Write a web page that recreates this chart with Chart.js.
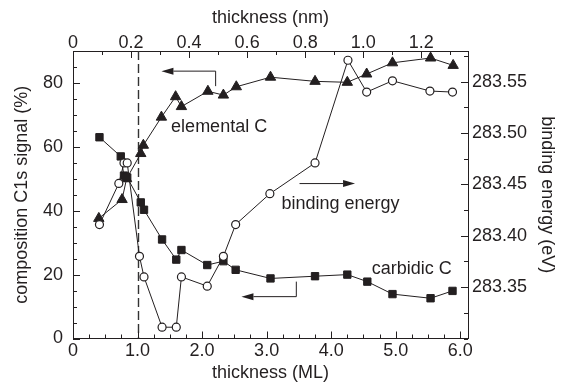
<!DOCTYPE html>
<html>
<head>
<meta charset="utf-8">
<script src="https://cdn.jsdelivr.net/npm/chart.js@4.4.1/dist/chart.umd.min.js"></script>
<style>
  html, body { margin: 0; padding: 0; background: #fff; }
</style>
</head>
<body>
<canvas id="xpsChart" width="564" height="384"></canvas>
<script>
// values, thickness in ML
const elementalX = [0.40, 0.76, 0.83, 1.05, 1.09, 1.37, 1.59, 1.68, 2.09, 2.33, 2.53, 3.06, 3.75, 4.25, 4.55, 4.95, 5.54, 5.89];
const elementalC = [37.6, 43.5, 50.0, 57.9, 60.5, 69.3, 75.7, 72.6, 77.4, 76.2, 78.8, 81.8, 80.5, 80.2, 82.8, 86.3, 87.8, 85.5];
const carbidicX = [0.41, 0.74, 0.79, 0.84, 1.05, 1.10, 1.38, 1.60, 1.68, 2.08, 2.33, 2.52, 3.06, 3.75, 4.25, 4.56, 4.95, 5.54, 5.88];
const carbidicC = [63.0, 57.0, 51.0, 50.4, 42.6, 40.3, 31.0, 24.7, 27.7, 23.0, 24.2, 21.5, 18.8, 19.5, 20.0, 17.8, 13.9, 12.6, 14.9];
const bindingX = [0.41, 0.71, 0.79, 0.84, 1.03, 1.10, 1.38, 1.60, 1.68, 2.08, 2.33, 2.52, 3.05, 3.75, 4.26, 4.55, 4.95, 5.53, 5.88];
const bindingE = [283.411, 283.451, 283.471, 283.471, 283.380, 283.360, 283.311, 283.311, 283.360, 283.351, 283.380, 283.411, 283.441, 283.471, 283.571, 283.540, 283.551, 283.541, 283.540];

// labelled ticks
const mlTicks = [0, 1, 2, 3, 4, 5, 6];
const nmTicks = [0, 0.2, 0.4, 0.6, 0.8, 1.0, 1.2];
const pctTicks = [0, 20, 40, 60, 80];
const beTicks = [283.35, 283.40, 283.45, 283.50, 283.55];

const mlMax = 6.12;
const nmPerML = 0.2224;

// annotations, in ML / % units
const notes = [
  { text: "elemental C", x: 1.52, y: 66.3 },
  { text: "binding energy", x: 3.23, y: 42.2 },
  { text: "carbidic C", x: 4.63, y: 21.9 }
];
const arrows = [
  [[2.21, 79.0], [2.21, 83.7], [1.37, 83.7]],
  [[3.51, 48.5], [4.37, 48.5]],
  [[3.46, 17.8], [3.46, 13.1], [2.61, 13.1]]
];
const markerLine = 1.0;

const FONT = { family: "'Liberation Sans', Arial, sans-serif", size: 18 };
const INK = "#231f20";

function minorTicks(step) {
  return function (scale) {
    const out = [];
    const n = Math.floor((scale.max - scale.min) / step + 1e-6);
    for (let i = 0; i <= n; i++) out.push({ value: +(scale.min + i * step).toFixed(4) });
    scale.ticks = out;
  };
}
function isIn(v, list) {
  return list.some(t => Math.abs(t - v) < 1e-6);
}
function fmtOne(v) {
  return v === 0 ? "0" : v.toFixed(1);
}

const majorSets = { x: mlTicks, x2: nmTicks, y: pctTicks, y1: beTicks };

const frameTicks = {
  id: "frameTicks",
  beforeDatasetsDraw(chart) {
    const ctx = chart.ctx, a = chart.chartArea;
    const px = Math.round(chart.scales.x.getPixelForValue(markerLine)) + 0.5;
    ctx.save();
    ctx.strokeStyle = "#333";
    ctx.lineWidth = 1.4;
    ctx.setLineDash([9, 4]);
    ctx.beginPath();
    ctx.moveTo(px, a.top);
    ctx.lineTo(px, a.bottom);
    ctx.stroke();
    ctx.restore();
  },
  afterDraw(chart) {
    const ctx = chart.ctx, a = chart.chartArea;
    ctx.save();
    ctx.strokeStyle = INK;
    ctx.lineWidth = 1;
    ctx.beginPath();
    for (const id of ["x", "x2", "y", "y1"]) {
      const s = chart.scales[id];
      s.ticks.forEach(t => {
        const len = isIn(t.value, majorSets[id]) ? 7 : 4;
        const p = Math.round(s.getPixelForValue(t.value)) + 0.5;
        if (id === "x") { ctx.moveTo(p, a.bottom); ctx.lineTo(p, a.bottom - len); }
        if (id === "x2") { ctx.moveTo(p, a.top); ctx.lineTo(p, a.top + len); }
        if (id === "y") { ctx.moveTo(a.left, p); ctx.lineTo(a.left + len, p); }
        if (id === "y1") { ctx.moveTo(a.right, p); ctx.lineTo(a.right - len, p); }
      });
    }
    ctx.stroke();

    // arrows
    const sx = chart.scales.x, sy = chart.scales.y;
    ctx.fillStyle = INK;
    arrows.forEach(path => {
      const pts = path.map(p => [sx.getPixelForValue(p[0]), sy.getPixelForValue(p[1])]);
      ctx.beginPath();
      ctx.moveTo(pts[0][0], pts[0][1]);
      for (let i = 1; i < pts.length - 1; i++) ctx.lineTo(pts[i][0], pts[i][1]);
      const [x1, y1] = pts[pts.length - 2];
      const [x2, y2] = pts[pts.length - 1];
      const ang = Math.atan2(y2 - y1, x2 - x1);
      const hl = 12, hw = 3.5;
      ctx.lineTo(x2 - hl * Math.cos(ang), y2 - hl * Math.sin(ang));
      ctx.stroke();
      ctx.beginPath();
      ctx.moveTo(x2, y2);
      ctx.lineTo(x2 - hl * Math.cos(ang) - hw * Math.sin(ang), y2 - hl * Math.sin(ang) + hw * Math.cos(ang));
      ctx.lineTo(x2 - hl * Math.cos(ang) + hw * Math.sin(ang), y2 - hl * Math.sin(ang) - hw * Math.cos(ang));
      ctx.closePath();
      ctx.fill();
    });

    ctx.font = FONT.size + "px " + FONT.family;
    ctx.textAlign = "left";
    ctx.textBaseline = "middle";
    notes.forEach(n => ctx.fillText(n.text, sx.getPixelForValue(n.x), sy.getPixelForValue(n.y)));
    ctx.restore();
  }
};

function pairs(xs, ys) {
  return xs.map((x, i) => ({ x: x, y: ys[i] }));
}

new Chart(document.getElementById("xpsChart").getContext("2d"), {
  type: "line",
  data: {
    datasets: [
      {
        label: "binding energy", data: pairs(bindingX, bindingE), yAxisID: "y1",
        borderColor: INK, borderWidth: 1, pointStyle: "circle", pointRadius: 4,
        pointBackgroundColor: "#fff", pointBorderColor: INK, pointBorderWidth: 1.2
      },
      {
        label: "carbidic C", data: pairs(carbidicX, carbidicC), yAxisID: "y",
        borderColor: INK, borderWidth: 1, pointStyle: "rect", pointRadius: 5.2,
        pointBackgroundColor: INK, pointBorderColor: INK, pointBorderWidth: 1
      },
      {
        label: "elemental C", data: pairs(elementalX, elementalC), yAxisID: "y",
        borderColor: INK, borderWidth: 1, pointStyle: "triangle", pointRadius: 6,
        pointBackgroundColor: INK, pointBorderColor: INK, pointBorderWidth: 1
      }
    ]
  },
  options: {
    responsive: false,
    animation: false,
    devicePixelRatio: 1,
    layout: { padding: 0 },
    elements: { line: { tension: 0 } },
    plugins: { legend: { display: false }, tooltip: { enabled: false } },
    scales: {
      x: {
        type: "linear", position: "bottom", min: 0, max: mlMax,
        afterBuildTicks: minorTicks(0.25),
        afterFit: s => { s.height = 45.5; },
        grid: { drawOnChartArea: false, drawTicks: false },
        border: { display: true, color: INK, width: 1 },
        ticks: {
          autoSkip: false, maxRotation: 0, padding: 2, color: INK, font: FONT,
          callback: v => isIn(v, mlTicks) ? fmtOne(v) : ""
        },
        title: { display: true, text: "thickness (ML)", color: INK, font: FONT, padding: { top: 0, bottom: 0 } }
      },
      x2: {
        type: "linear", position: "top", min: 0, max: mlMax * nmPerML,
        afterBuildTicks: minorTicks(0.1),
        afterFit: s => { s.height = 51; },
        grid: { drawOnChartArea: false, drawTicks: false },
        border: { display: true, color: INK, width: 1 },
        ticks: {
          autoSkip: false, maxRotation: 0, padding: -3, color: INK, font: FONT,
          callback: v => isIn(v, nmTicks) ? fmtOne(v) : ""
        },
        title: { display: true, text: "thickness (nm)", color: INK, font: FONT, padding: { top: 7, bottom: 0 } }
      },
      y: {
        type: "linear", position: "left", min: 0, max: 90,
        afterBuildTicks: minorTicks(5),
        afterFit: s => { s.width = 73; },
        grid: { drawOnChartArea: false, drawTicks: false },
        border: { display: true, color: INK, width: 1 },
        ticks: {
          autoSkip: false, padding: 10, color: INK, font: FONT,
          callback: v => isIn(v, pctTicks) ? String(v) : ""
        },
        title: { display: true, text: "composition C1s signal (%)", color: INK, font: FONT, padding: { top: 11, bottom: 0 } }
      },
      y1: {
        type: "linear", position: "right", min: 283.30, max: 283.58,
        afterBuildTicks: minorTicks(0.025),
        afterFit: s => { s.width = 96; },
        grid: { drawOnChartArea: false, drawTicks: false },
        border: { display: true, color: INK, width: 1 },
        ticks: {
          autoSkip: false, padding: 4, color: INK, font: FONT,
          callback: v => isIn(v, beTicks) ? v.toFixed(2) : ""
        },
        title: { display: true, text: "binding energy (eV)", color: INK, font: FONT, padding: { top: 6, bottom: 0 } }
      }
    }
  },
  plugins: [frameTicks]
});
</script>
</body>
</html>
